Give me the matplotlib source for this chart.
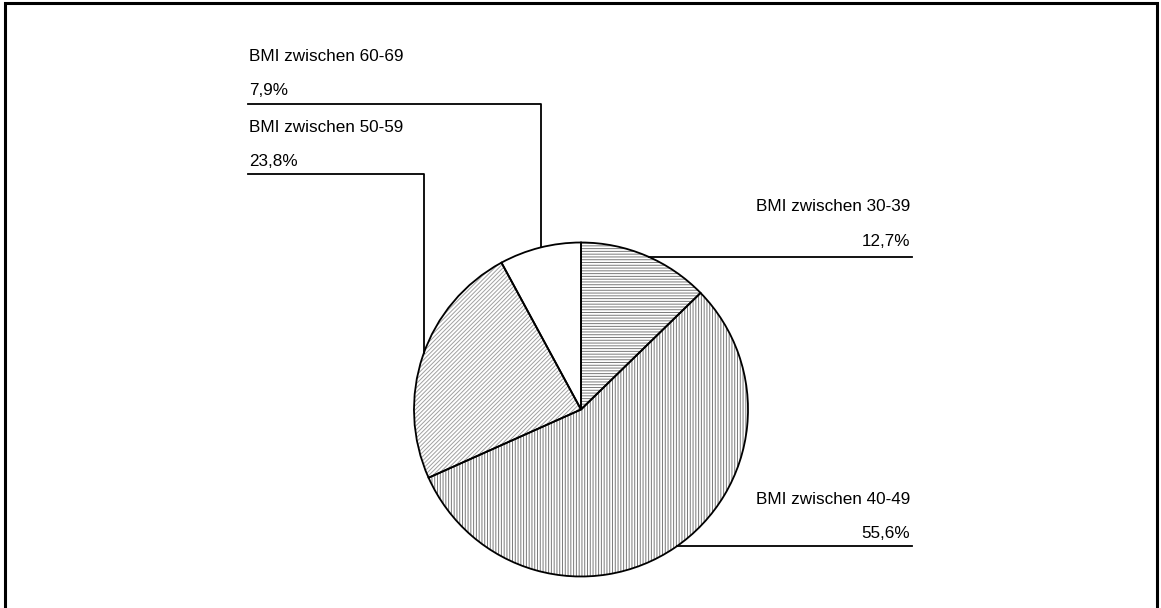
import numpy as np
import matplotlib
matplotlib.use("Agg")
import matplotlib.pyplot as plt
from matplotlib.patches import Rectangle

plt.rcParams['font.family'] = ['Liberation Sans', 'DejaVu Sans']
plt.rcParams['hatch.linewidth'] = 0.7

labels = ["BMI zwischen 30-39", "BMI zwischen 40-49", "BMI zwischen 50-59", "BMI zwischen 60-69"]
shares = [12.7, 55.6, 23.8, 7.9]
hatches = ["------", "||||||", "////////", ""]
hatch_colors = ["#7a7a7a", "#7a7a7a", "#a0a0a0", "white"]

W, H = 1161, 608
fig = plt.figure(figsize=(W / 100, H / 100), dpi=100)
ax = fig.add_axes([0, 0, 1, 1])

# pixel-like coordinates, y measured from the top
def Y(py):
    return H - py

cx, cy, r = 581, 409.5, 167

# hatched fills first, outlines on top
fills, _ = ax.pie(shares, startangle=90, counterclock=False, center=(cx, Y(cy)),
                  radius=r, frame=True, wedgeprops=dict(linewidth=0))
for w, h, c in zip(fills, hatches, hatch_colors):
    w.set_facecolor("white")
    w.set_edgecolor(c)
    w.set_linewidth(0)
    w.set_hatch(h)
ax.pie(shares, startangle=90, counterclock=False, center=(cx, Y(cy)), radius=r,
       frame=True, colors=["none"] * 4,
       wedgeprops=dict(edgecolor="black", linewidth=1.3))

def edge_at_y(py, side):
    return cx + side * np.sqrt(r ** 2 - (py - cy) ** 2)

def edge_at_x(px):
    return cy - np.sqrt(r ** 2 - (px - cx) ** 2)

fs = 12.3
lw = 1.3

# right side labels: 30-39 and 40-49
for name, val, ty, ly in [(labels[0], shares[0], 211, 257),
                          (labels[1], shares[1], 504, 546)]:
    ax.text(910, Y(ty), name, ha="right", va="baseline", fontsize=fs)
    ax.text(910, Y(ty + 34.5), f"{val:.1f}%".replace(".", ","), ha="right",
            va="baseline", fontsize=fs)
    ax.plot([edge_at_y(ly, 1), 912], [Y(ly), Y(ly)], color="black", lw=lw)

# left side labels: 60-69 and 50-59
for name, val, ty, ly, vx in [(labels[3], shares[3], 60.7, 104, 541),
                              (labels[2], shares[2], 131.7, 174, 424)]:
    ax.text(249, Y(ty), name, ha="left", va="baseline", fontsize=fs)
    ax.text(249, Y(ty + 34.5), f"{val:.1f}%".replace(".", ","), ha="left",
            va="baseline", fontsize=fs)
    ax.plot([248, vx, vx], [Y(ly), Y(ly), Y(edge_at_x(vx))], color="black", lw=lw)

# frame around the chart
ax.add_patch(Rectangle((5, -10), 1152, H - 3 + 10, fill=False,
                       edgecolor="black", linewidth=2.2))

ax.set_xlim(0, W)
ax.set_ylim(0, H)
ax.set_aspect("equal")
ax.axis("off")

fig.savefig("out.png", dpi=100, facecolor="white")
